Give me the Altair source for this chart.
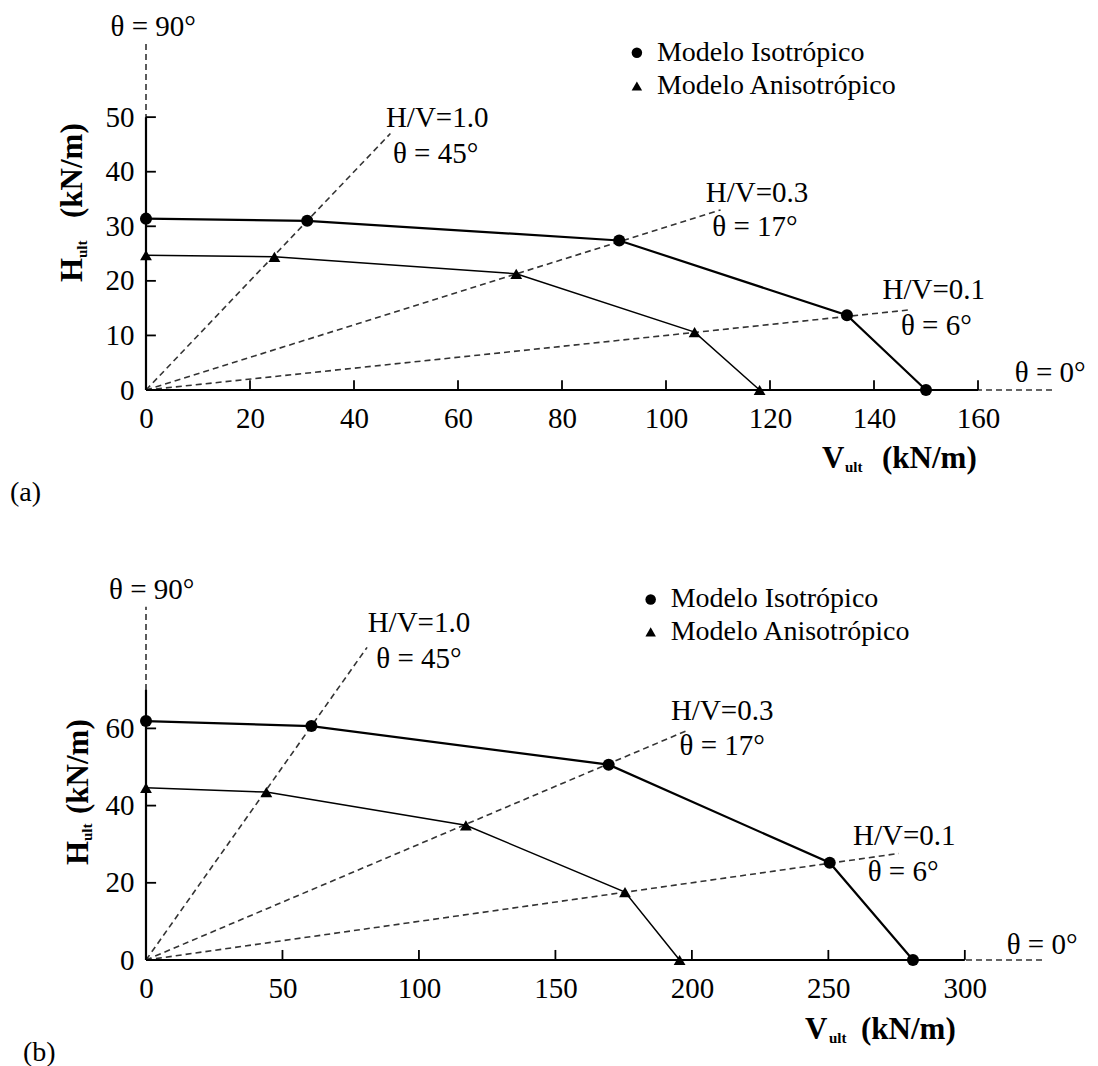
import altair as alt
import pandas as pd

FONT = "Liberation Serif"

# ---------------- Panel (a) ----------------
a_iso_V = [0, 31.0, 91.0, 134.8, 150.0]
a_iso_H = [31.4, 31.0, 27.4, 13.7, 0]
a_ani_V = [0, 24.7, 71.2, 105.5, 118.0]
a_ani_H = [24.7, 24.4, 21.3, 10.6, 0]
# radial lines: 45°, 17°, 6°, 0°, 90°
a_ray_V = [47.0, 110.5, 147.0, 174.5, 0]
a_ray_H = [47.0, 33.0, 14.7, 0, 64.0]
a_xticks = [0, 20, 40, 60, 80, 100, 120, 140, 160]
a_yticks = [0, 10, 20, 30, 40, 50]
a_ann_text = ["θ = 90°", "H/V=1.0", "θ = 45°", "H/V=0.3", "θ = 17°", "H/V=0.1", "θ = 6°", "θ = 0°"]
a_ann_V = [1.4, 56.0, 55.7, 117.5, 117.1, 151.5, 152.0, 173.9]
a_ann_H = [66.6, 49.8, 43.3, 36.1, 29.9, 18.4, 11.8, 3.2]
a_leg_V = [94.4, 94.4]
a_leg_H = [61.8, 55.7]

# ---------------- Panel (b) ----------------
b_iso_V = [0, 60.6, 169.5, 250.5, 281.0]
b_iso_H = [61.9, 60.6, 50.6, 25.2, 0]
b_ani_V = [0, 44.1, 117.2, 175.5, 195.5]
b_ani_H = [44.6, 43.5, 34.9, 17.6, 0]
b_ray_V = [81.0, 198.7, 275.8, 329.3, 0]
b_ray_H = [81.0, 59.6, 27.6, 0, 91.5]
b_xticks = [0, 50, 100, 150, 200, 250, 300]
b_yticks = [0, 20, 40, 60]
b_ann_text = ["θ = 90°", "H/V=1.0", "θ = 45°", "H/V=0.3", "θ = 17°", "H/V=0.1", "θ = 6°", "θ = 0°"]
b_ann_V = [2.1, 100.0, 100.0, 211.1, 211.1, 277.8, 277.4, 328.3]
b_ann_H = [95.8, 87.4, 78.0, 64.4, 55.5, 32.1, 22.8, 3.9]
b_leg_V = [184.9, 184.9]
b_leg_H = [93.4, 85.0]

legend_labels = ["Modelo Isotrópico", "Modelo Anisotrópico"]


def panel(cfg):
    W, Hh = cfg["w"], cfg["h"]
    xs = alt.Scale(domain=[0, cfg["xmax"]], nice=False, zero=False)
    ys = alt.Scale(domain=[0, cfg["ymax"]], nice=False, zero=False)
    xax = alt.Axis(values=cfg["xticks"], domain=False, ticks=False, grid=False, title=None,
                   labelFont=FONT, labelFontSize=29, labelColor="black", labelPadding=14,
                   labelFlush=False, labelOverlap=False)
    yax = alt.Axis(values=cfg["yticks"], domain=False, ticks=False, grid=False, title=None,
                   labelFont=FONT, labelFontSize=29, labelColor="black", labelPadding=12,
                   labelFlush=False, labelOverlap=False)

    def X(f="V"):
        return alt.X(f"{f}:Q", scale=xs, axis=xax)

    def Y(f="H"):
        return alt.Y(f"{f}:Q", scale=ys, axis=yax)

    # radial dashed lines
    rows = []
    for i, (v, h) in enumerate(zip(cfg["ray_V"], cfg["ray_H"])):
        rows.append({"ray": i, "o": 0, "V": 0.0, "H": 0.0})
        rows.append({"ray": i, "o": 1, "V": v, "H": h})
    rays = alt.Chart(pd.DataFrame(rows)).mark_line(
        color="#333333", strokeWidth=1.6, strokeDash=[6, 4]
    ).encode(x=X(), y=Y(), detail="ray:N", order="o:Q")

    # axis lines (solid)
    ax_df = pd.DataFrame({
        "V": [0, 0], "V2": [cfg["xmax_axis"], 0],
        "H": [0, 0], "H2": [0, cfg["ymax_axis"]],
    })
    axes = alt.Chart(ax_df).mark_rule(color="black", strokeWidth=2.2).encode(
        x=X(), x2="V2:Q", y=Y(), y2="H2:Q")

    # tick marks (pointing inward)
    xt = [t for t in cfg["xticks"] if t > 0]
    yt = [t for t in cfg["yticks"] if t > 0]
    xt_df = pd.DataFrame({"V": xt, "H": [0] * len(xt), "H2": [cfg["tick_h"]] * len(xt)})
    yt_df = pd.DataFrame({"V": [0] * len(yt), "V2": [cfg["tick_v"]] * len(yt), "H": yt})
    xticks = alt.Chart(xt_df).mark_rule(color="black", strokeWidth=1.8).encode(
        x=X(), y=Y(), y2="H2:Q")
    yticks = alt.Chart(yt_df).mark_rule(color="black", strokeWidth=1.8).encode(
        x=X(), x2="V2:Q", y=Y())

    # curves
    iso_df = pd.DataFrame({"V": cfg["iso_V"], "H": cfg["iso_H"], "i": range(len(cfg["iso_V"]))})
    ani_df = pd.DataFrame({"V": cfg["ani_V"], "H": cfg["ani_H"], "i": range(len(cfg["ani_V"]))})
    iso_line = alt.Chart(iso_df).mark_line(color="black", strokeWidth=2.2).encode(
        x=X(), y=Y(), order="i:Q")
    ani_line = alt.Chart(ani_df).mark_line(color="black", strokeWidth=1.5).encode(
        x=X(), y=Y(), order="i:Q")
    iso_pts = alt.Chart(iso_df).mark_point(shape="circle", filled=True, color="black",
                                            size=145, opacity=1).encode(x=X(), y=Y())
    ani_pts = alt.Chart(ani_df).mark_point(shape="triangle-up", filled=True, color="black",
                                            size=140, opacity=1).encode(x=X(), y=Y())

    # annotations
    ann_df = pd.DataFrame({"V": cfg["ann_V"], "H": cfg["ann_H"], "t": cfg["ann_text"]})
    ann = alt.Chart(ann_df).mark_text(font=FONT, fontSize=29, color="black",
                                      align="center", baseline="middle").encode(
        x=X(), y=Y(), text="t:N")

    # legend
    leg_c = alt.Chart(pd.DataFrame({"V": cfg["leg_V"][:1], "H": cfg["leg_H"][:1]})).mark_point(
        shape="circle", filled=True, color="black", size=110, opacity=1).encode(x=X(), y=Y())
    leg_t = alt.Chart(pd.DataFrame({"V": cfg["leg_V"][1:], "H": cfg["leg_H"][1:]})).mark_point(
        shape="triangle-up", filled=True, color="black", size=110, opacity=1).encode(x=X(), y=Y())
    leg_txt = alt.Chart(pd.DataFrame({"V": cfg["leg_V"], "H": cfg["leg_H"], "t": legend_labels})).mark_text(
        font=FONT, fontSize=28, color="black", align="left", baseline="middle",
        dx=cfg["leg_dx"]).encode(x=X(), y=Y(), text="t:N")

    # axis titles & panel label (pixel positions relative to plot area)
    def txt(s, x, y, size, weight="bold", angle=0, baseline="alphabetic"):
        return alt.Chart(pd.DataFrame({"t": [s]})).mark_text(
            font=FONT, fontSize=size, fontWeight=weight, color="black", align="left",
            baseline=baseline, angle=angle).encode(
            x=alt.value(x), y=alt.value(y), text="t:N")

    T = cfg["titles"]
    titles = [
        txt("V", T["V"][0], T["V"][1], 31),
        txt("ult", T["vult"][0], T["vult"][1], 15),
        txt("(kN/m)", T["vkn"][0], T["vkn"][1], 31),
        txt("H", T["H"][0], T["H"][1], 31, angle=270),
        txt("ult", T["hult"][0], T["hult"][1], 15, angle=270),
        txt("(kN/m)", T["hkn"][0], T["hkn"][1], 31, angle=270),
        txt(cfg["label"], T["lab"][0], T["lab"][1], 28, weight="normal", baseline="middle"),
    ]

    return alt.layer(rays, axes, xticks, yticks, iso_line, ani_line, iso_pts, ani_pts,
                     ann, leg_c, leg_t, leg_txt, *titles).properties(width=W, height=Hh)


cfg_a = dict(
    w=936, h=382, xmax=180, ymax=70, xmax_axis=160, ymax_axis=50,
    xticks=a_xticks, yticks=a_yticks, tick_h=1.8, tick_v=1.9,
    iso_V=a_iso_V, iso_H=a_iso_H, ani_V=a_ani_V, ani_H=a_ani_H,
    ray_V=a_ray_V, ray_H=a_ray_H,
    ann_V=a_ann_V, ann_H=a_ann_H, ann_text=a_ann_text,
    leg_V=a_leg_V, leg_H=a_leg_H, leg_dx=20, label="(a)",
    titles=dict(V=(676, 460), vult=(699, 464), vkn=(736, 460),
                H=(-64, 274), hult=(-59, 250), hkn=(-64, 210), lab=(-136, 485)),
)

cfg_b = dict(
    w=928, h=386, xmax=340, ymax=100, xmax_axis=300, ymax_axis=70,
    xticks=b_xticks, yticks=b_yticks, tick_h=2.6, tick_v=3.7,
    iso_V=b_iso_V, iso_H=b_iso_H, ani_V=b_ani_V, ani_H=b_ani_H,
    ray_V=b_ray_V, ray_H=b_ray_H,
    ann_V=b_ann_V, ann_H=b_ann_H, ann_text=b_ann_text,
    leg_V=b_leg_V, leg_H=b_leg_H, leg_dx=20, label="(b)",
    titles=dict(V=(659, 465), vult=(683, 469), vkn=(715, 465),
                H=(-58, 291), hult=(-54, 267), hkn=(-58, 240), lab=(-123, 479)),
)

chart = alt.vconcat(panel(cfg_a), panel(cfg_b), spacing=67).properties(
    padding={"left": 2, "top": 0, "right": 0, "bottom": 0}
).configure_view(stroke=None)

chart.save("out.html", embed_options={"renderer": "svg", "actions": False})
